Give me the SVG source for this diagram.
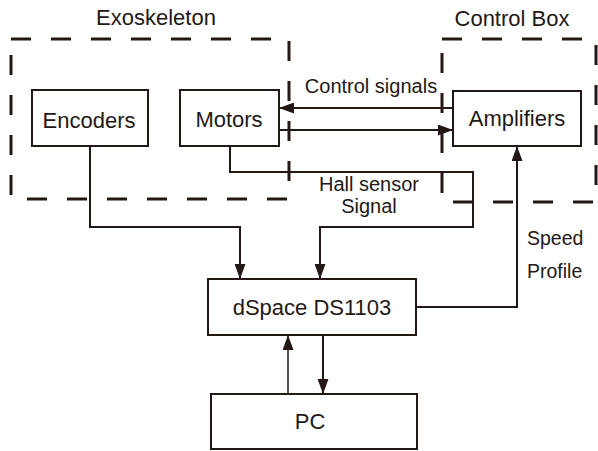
<svg xmlns="http://www.w3.org/2000/svg" width="598" height="451" viewBox="0 0 598 451">
<style>
.box{fill:#fff;stroke:#231815;stroke-width:2}
.dash{fill:none;stroke:#231815;stroke-width:3;stroke-dasharray:20 20}
.ln{fill:none;stroke:#231815;stroke-width:2}
.t{font-family:"Liberation Sans",Arial,sans-serif;fill:#231815}
</style>
<defs>
<marker id="ah" markerUnits="userSpaceOnUse" markerWidth="15" markerHeight="11" refX="15" refY="5.5" orient="auto" viewBox="0 0 15 11">
<path d="M0,0 L15,5.5 L0,11 z" fill="#231815"/>
</marker>
</defs>
<g id="groups">
<text class="t" x="156" y="25" font-size="22" text-anchor="middle">Exoskeleton</text>
<path class="dash" d="M11,39 H289 V199 H11 Z"/>
<text class="t" x="512" y="26" font-size="22" text-anchor="middle">Control Box</text>
<path class="dash" d="M442,39 H596 V202 H442 Z"/>
</g>
<g id="connectors">
<path class="ln" d="M90,146 V227 H240 V279" marker-end="url(#ah)"/>
<path class="ln" d="M230,146 V172 H473 V227 H320 V279" marker-end="url(#ah)"/>
<path class="ln" d="M416,307 H517 V146" marker-end="url(#ah)"/>
<path class="ln" d="M453,108 H279" marker-end="url(#ah)"/>
<path class="ln" d="M279,130 H453" marker-end="url(#ah)"/>
<path class="ln" d="M323,335 V394" marker-end="url(#ah)"/>
<path class="ln" style="stroke-width:1.5" d="M288,394 V335" marker-end="url(#ah)"/>
<text class="t" x="371" y="93" font-size="20" text-anchor="middle">Control signals</text>
<text class="t" x="369" y="191" font-size="20" text-anchor="middle">Hall sensor</text>
<text class="t" x="369" y="213" font-size="20" text-anchor="middle">Signal</text>
<text class="t" x="527" y="245" font-size="19.5">Speed</text>
<text class="t" x="527" y="278" font-size="19.5">Profile</text>
</g>
<g id="encoders">
<rect class="box" x="32" y="90" width="116" height="56"/>
<text class="t" x="89" y="128" font-size="22" text-anchor="middle">Encoders</text>
</g>
<g id="motors">
<rect class="box" x="180" y="90" width="99" height="56"/>
<text class="t" x="229" y="127" font-size="22" text-anchor="middle">Motors</text>
</g>
<g id="amplifiers">
<rect class="box" x="453" y="91" width="128" height="55"/>
<text class="t" x="517" y="126" font-size="22" text-anchor="middle">Amplifiers</text>
</g>
<g id="dspace">
<rect class="box" x="208" y="279" width="208" height="56"/>
<text class="t" x="312" y="315" font-size="22" text-anchor="middle">dSpace DS1103</text>
</g>
<g id="pc">
<rect class="box" x="211" y="394" width="206" height="55"/>
<text class="t" x="310" y="429" font-size="22" text-anchor="middle">PC</text>
</g>
</svg>
